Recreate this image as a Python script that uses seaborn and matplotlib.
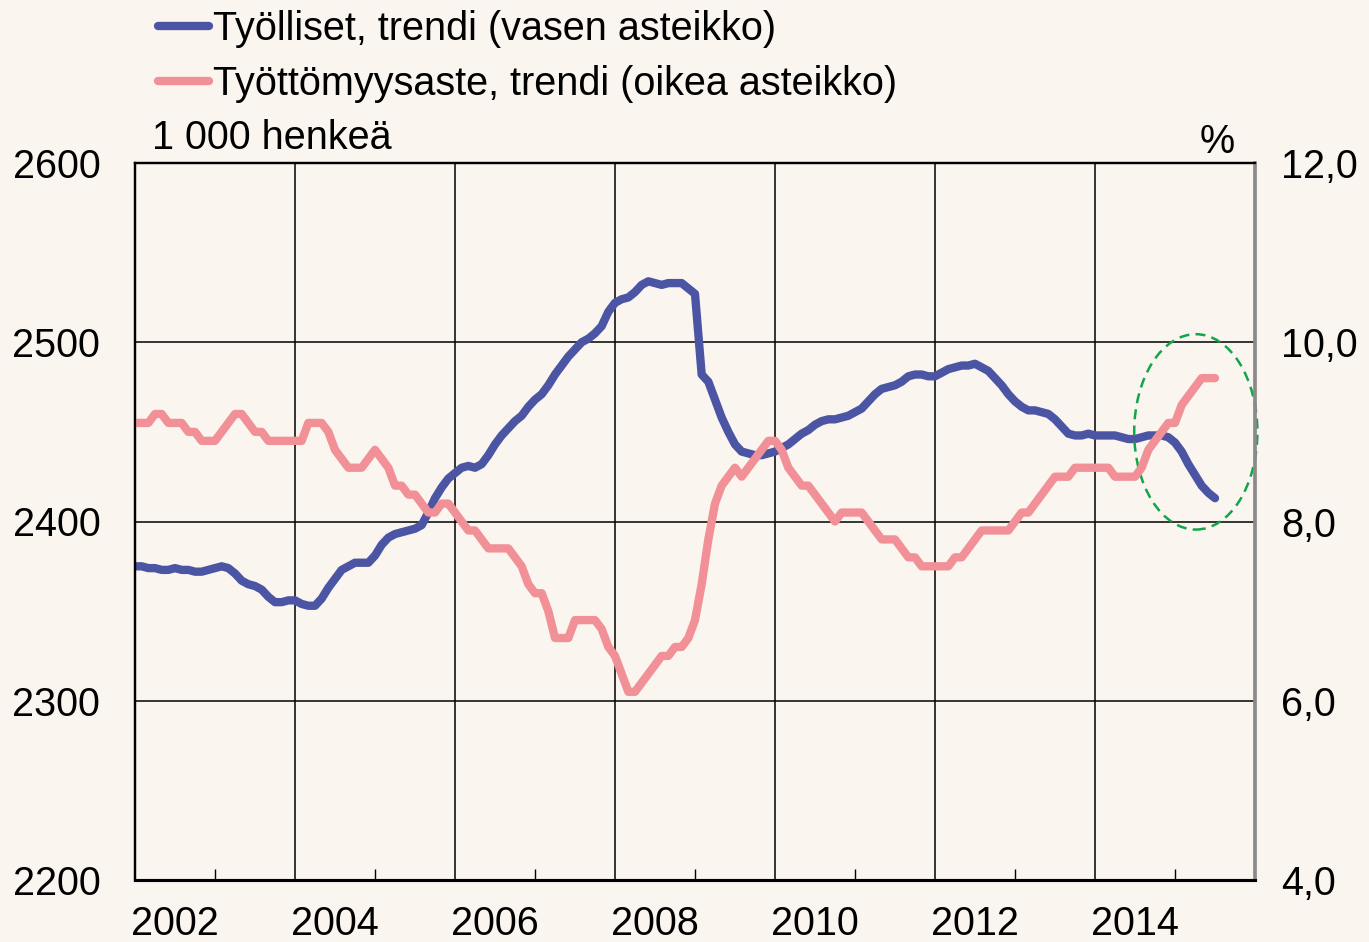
import matplotlib
matplotlib.use("Agg")
import matplotlib.pyplot as plt
from matplotlib.patches import Ellipse
from matplotlib.ticker import FixedLocator, FuncFormatter
import numpy as np
import pandas as pd
import seaborn as sns

# monthly trend values, Jan 2002 - Jul 2015
start_year = 2002
employed = [  # 1 000 persons
    2375, 2375, 2374, 2374, 2373, 2373, 2374, 2373, 2373, 2372, 2372, 2373,
    2374, 2375, 2374, 2371, 2367, 2365, 2364, 2362, 2358, 2355, 2355, 2356,
    2356, 2354, 2353, 2353, 2357, 2363, 2368, 2373, 2375, 2377, 2377, 2377,
    2381, 2387, 2391, 2393, 2394, 2395, 2396, 2398, 2405, 2413, 2419, 2424,
    2427, 2430, 2431, 2430, 2432, 2437, 2443, 2448, 2452, 2456, 2459, 2464,
    2468, 2471, 2476, 2482, 2487, 2492, 2496, 2500, 2502, 2505, 2509, 2517,
    2522, 2524, 2525, 2528, 2532, 2534, 2533, 2532, 2533, 2533, 2533, 2530,
    2527, 2482, 2478, 2468, 2458, 2450, 2443, 2439, 2438, 2437, 2437, 2438,
    2439, 2441, 2443, 2446, 2449, 2451, 2454, 2456, 2457, 2457, 2458, 2459,
    2461, 2463, 2467, 2471, 2474, 2475, 2476, 2478, 2481, 2482, 2482, 2481,
    2481, 2483, 2485, 2486, 2487, 2487, 2488, 2486, 2484, 2480, 2476, 2471,
    2467, 2464, 2462, 2462, 2461, 2460, 2457, 2453, 2449, 2448, 2448, 2449,
    2448, 2448, 2448, 2448, 2447, 2446, 2446, 2447, 2448, 2448, 2448, 2447,
    2444, 2439, 2432, 2426, 2420, 2416, 2413,
]
unemp_rate = [  # %
    9.1, 9.1, 9.1, 9.2, 9.2, 9.1, 9.1, 9.1, 9.0, 9.0, 8.9, 8.9,
    8.9, 9.0, 9.1, 9.2, 9.2, 9.1, 9.0, 9.0, 8.9, 8.9, 8.9, 8.9,
    8.9, 8.9, 9.1, 9.1, 9.1, 9.0, 8.8, 8.7, 8.6, 8.6, 8.6, 8.7,
    8.8, 8.7, 8.6, 8.4, 8.4, 8.3, 8.3, 8.2, 8.1, 8.1, 8.2, 8.2,
    8.1, 8.0, 7.9, 7.9, 7.8, 7.7, 7.7, 7.7, 7.7, 7.6, 7.5, 7.3,
    7.2, 7.2, 7.0, 6.7, 6.7, 6.7, 6.9, 6.9, 6.9, 6.9, 6.8, 6.6,
    6.5, 6.3, 6.1, 6.1, 6.2, 6.3, 6.4, 6.5, 6.5, 6.6, 6.6, 6.7,
    6.9, 7.3, 7.8, 8.2, 8.4, 8.5, 8.6, 8.5, 8.6, 8.7, 8.8, 8.9,
    8.9, 8.8, 8.6, 8.5, 8.4, 8.4, 8.3, 8.2, 8.1, 8.0, 8.1, 8.1,
    8.1, 8.1, 8.0, 7.9, 7.8, 7.8, 7.8, 7.7, 7.6, 7.6, 7.5, 7.5,
    7.5, 7.5, 7.5, 7.6, 7.6, 7.7, 7.8, 7.9, 7.9, 7.9, 7.9, 7.9,
    8.0, 8.1, 8.1, 8.2, 8.3, 8.4, 8.5, 8.5, 8.5, 8.6, 8.6, 8.6,
    8.6, 8.6, 8.6, 8.5, 8.5, 8.5, 8.5, 8.6, 8.8, 8.9, 9.0, 9.1,
    9.1, 9.3, 9.4, 9.5, 9.6, 9.6, 9.6,
]
year_labels = ["2002", "2004", "2006", "2008", "2010", "2012", "2014"]
grid_years = [2004, 2006, 2008, 2010, 2012, 2014]
left_ticks = [2200, 2300, 2400, 2500, 2600]
right_ticks = [4, 6, 8, 10, 12]

label_emp = "Työlliset, trendi (vasen asteikko)"
label_unemp = "Työttömyysaste, trendi (oikea asteikko)"

months = np.arange(len(employed))
df = pd.DataFrame({
    "vuosi": start_year + months / 12,
    "tyolliset": employed,
    "tyottomyysaste": unemp_rate,
})

bg = "#FAF5EE"
blue = "#4B55A3"
pink = "#F29097"

sns.set_style("white", {"axes.facecolor": bg, "figure.facecolor": bg,
                        "text.color": "black", "xtick.color": "black",
                        "ytick.color": "black"})
plt.rcParams["font.family"] = ["Liberation Sans", "DejaVu Sans"]
fs = 28.5

fig = plt.figure(figsize=(13.69, 9.42), dpi=100)
ax = fig.add_axes([135 / 1369, 62 / 942, 1120 / 1369, 717 / 942])
ax2 = ax.twinx()

sns.lineplot(data=df, x="vuosi", y="tyolliset", ax=ax, color=blue, lw=6,
             solid_capstyle="round", label=label_emp, legend=False)
sns.lineplot(data=df, x="vuosi", y="tyottomyysaste", ax=ax2, color=pink, lw=6,
             solid_capstyle="round", label=label_unemp, legend=False)

ax.set_xlim(2002, 2016)
ax.set_ylim(2200, 2600)
ax2.set_ylim(4, 12)

# year labels sit in the middle of each year, small ticks at odd years
ax.xaxis.set_major_locator(FixedLocator([int(y) + 0.5 for y in year_labels]))
ax.set_xticklabels(year_labels)
ax.xaxis.set_minor_locator(FixedLocator([y + 1 for y in [2002] + grid_years]))
ax.tick_params(axis="x", which="major", length=0, pad=18, labelsize=fs,
               labelcolor="black")
ax.tick_params(axis="x", which="minor", direction="in", length=8, width=1,
               bottom=True, color="black")
for gy in grid_years:
    ax.axvline(gy, color="black", lw=1.1, zorder=0.5)

ax.set_yticks(left_ticks)
ax.tick_params(axis="y", length=0, pad=25, labelsize=fs, labelcolor="black")
ax.grid(axis="y", color="black", lw=1.1)
ax.grid(axis="x", visible=False)

ax2.set_yticks(right_ticks)
ax2.yaxis.set_major_formatter(FuncFormatter(lambda v, p: f"{v:.1f}".replace(".", ",")))
ax2.tick_params(axis="y", length=0, pad=19, labelsize=fs, labelcolor="black")
ax2.grid(False)

ax.set_xlabel("")
ax.set_ylabel("")
ax2.set_ylabel("")

for a in (ax, ax2):
    for s in a.spines.values():
        s.set_visible(True)
        s.set_color("black")
        s.set_linewidth(1.6)
ax.spines["bottom"].set_linewidth(2.2)
ax2.spines["bottom"].set_linewidth(2.2)
ax2.spines["right"].set_color("#8A8A8A")
ax2.spines["right"].set_linewidth(2.6)

# dashed circle around the latest months
circle = Ellipse((2015.26, 2450), 1.54, 109, fill=False, edgecolor="#13A54B",
                 lw=1.8, ls=(0, (4, 2.5)), clip_on=False, zorder=5)
ax.add_patch(circle)

h1, l1 = ax.get_legend_handles_labels()
h2, l2 = ax2.get_legend_handles_labels()
leg = fig.legend(h1 + h2, l1 + l2, loc="upper left",
                 bbox_to_anchor=(158 / 1369, 1 - 10 / 942),
                 frameon=False, fontsize=fs, handlelength=1.3, handletextpad=0.08,
                 labelspacing=0.42, borderpad=0, borderaxespad=0)
for t in leg.get_texts():
    t.set_color("black")

fig.text(152 / 1369, 1 - 149 / 942, "1 000 henkeä", fontsize=fs, va="baseline",
         ha="left", color="black")
fig.text(1235 / 1369, 1 - 153 / 942, "%", fontsize=fs, va="baseline", ha="right",
         color="black")

fig.savefig("out.png", dpi=100, facecolor=bg)
